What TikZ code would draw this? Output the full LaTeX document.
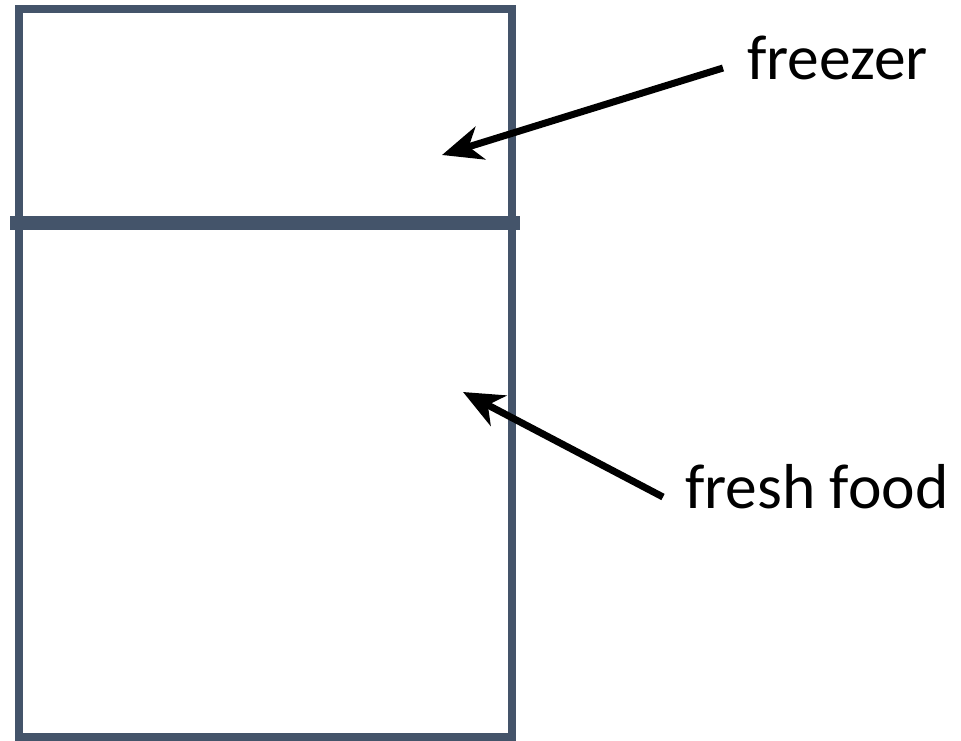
\documentclass[tikz,border=0pt]{standalone}
\usepackage{fontspec}
\setmainfont{Carlito}
\usetikzlibrary{arrows.meta}
\definecolor{frame}{HTML}{44546A}
\tikzset{
  wall/.style={draw=frame,line width=8pt},
  divider/.style={draw=frame,line width=14pt},
  pointer/.style={draw=black,line width=7pt,-{Stealth[inset=12pt,length=40pt,width=34pt]}},
  lbl/.style={inner sep=0pt,anchor=base west,font=\fontsize{63.5}{76}\selectfont}
}
\begin{document}
\begin{tikzpicture}[x=1pt,y=-1pt]
\useasboundingbox (0,0) rectangle (961,740);
\draw[wall] (19,9) rectangle (512,737);
\draw[divider] (10,223) -- (520,223);
\node[lbl] (fz) at (747,79) {freezer};
\node[lbl] (ff) at (685,508) {fresh food};
\coordinate (fzTail) at (723,68);
\coordinate (fzTip) at (442,155);
\coordinate (ffTail) at (663,497);
\coordinate (ffTip) at (463,392);
\draw[pointer] (fzTail) -- (fzTip);
\draw[pointer] (ffTail) -- (ffTip);
\end{tikzpicture}
\end{document}
